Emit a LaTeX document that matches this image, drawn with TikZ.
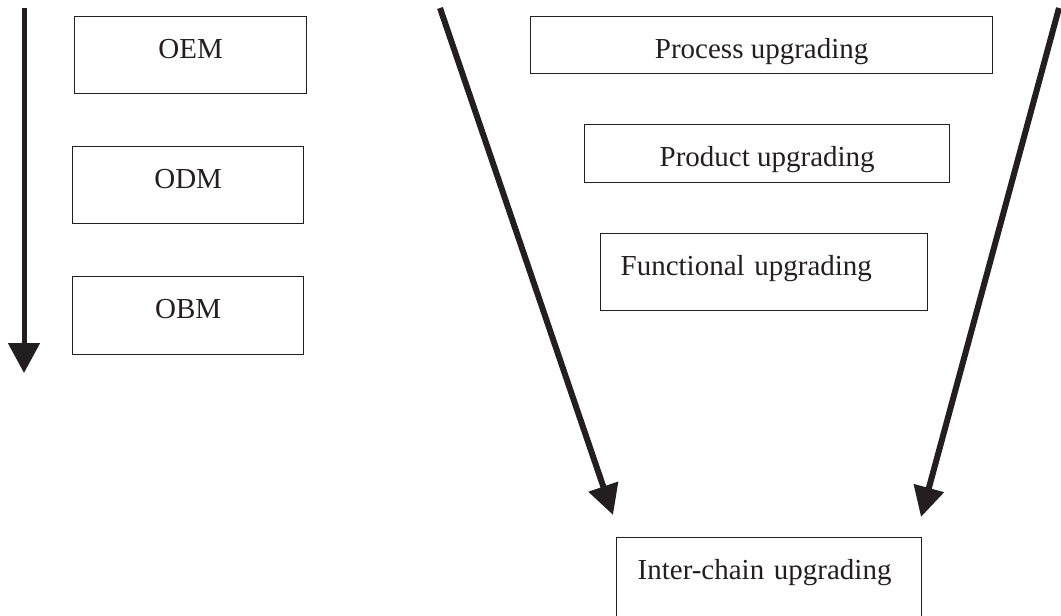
\documentclass[tikz,border=0pt]{standalone}
\usepackage{fontspec}
\setmainfont{Liberation Serif}
\usetikzlibrary{arrows.meta}
\definecolor{inkdark}{RGB}{35,31,32}

\begin{document}
\begin{tikzpicture}[x=1pt, y=-1pt,
        stage/.style={draw=inkdark, line width=1.3pt, inner sep=0pt, anchor=north west, text=inkdark, font=\fontsize{29}{34}\selectfont},
        flow/.style={draw=inkdark, line width=6pt, -{Triangle[length=30pt, width=30pt]}}]
        \useasboundingbox (0,0) rectangle (1061,616);
        % left column
        \node [stage, minimum width=232pt, text height=42pt, text depth=35pt] (OEM) at (74,16) {OEM};
        \node [stage, minimum width=231pt, text height=42pt, text depth=35pt] (ODM) at (72,146) {ODM};
        \node [stage, minimum width=231pt, text height=42pt, text depth=36pt] (OBM) at (72,276) {OBM};
        \coordinate (vtop) at (24,8);
        \coordinate (vtip) at (24,373);
        \draw[flow, line width=5pt, -{Triangle[length=30pt, width=31pt]}] (vtop) -- (vtip);
        % right column
        \node [stage, minimum width=462pt, text height=42pt, text depth=15pt] (P) at (530,16) {Process upgrading};
        \node [stage, minimum width=365pt, text height=42pt, text depth=16pt] (Q) at (584,124) {Product upgrading};
        \node [stage, inner xsep=20pt, text width=287pt, align=left, text height=42pt, text depth=35pt] (F) at (600,233) {Functional upgrading};
        \node [stage, inner xsep=21pt, text width=263pt, align=left, text height=42pt, text depth=50pt] (I) at (616,537) {Inter-chain upgrading};
        \coordinate (ltop) at (440,8);
        \coordinate (ltip) at (613,515);
        \coordinate (rtop) at (1059,8);
        \coordinate (rtip) at (921,517);
        \draw[flow] (ltop) -- (ltip);
        \draw[flow] (rtop) -- (rtip);
\end{tikzpicture}
\end{document}
